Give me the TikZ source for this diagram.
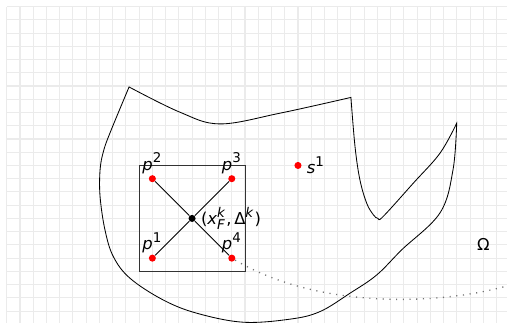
\documentclass[tikz,border=0pt]{standalone}
\usepackage{amsmath}
\usepackage{fontspec}
\setmainfont{DejaVu Sans}
\DeclareMathSizes{8.8}{8.8}{7.2}{6}
\usetikzlibrary{positioning}

\begin{document}
\begin{tikzpicture}[
  x=0.25cm, y=0.25cm,
  font=\fontsize{8.8}{10}\selectfont,
  gridline/.style={draw=black!8, line width=0.6pt},
  poll/.style={circle, fill=red, inner sep=0pt, minimum size=3.8pt},
  centre/.style={circle, fill=black, inner sep=0pt, minimum size=3.8pt},
  tag/.style={inner sep=0.5pt},
  region/.style={draw=black, line width=0.45pt},
  trustbox/.style={draw=black!80, line width=0.45pt, inner sep=0pt, minimum size=2cm},
  link/.style={draw=black, line width=0.45pt},
  trail/.style={draw=black!55, line width=0.7pt, dash pattern=on 0.6pt off 3pt}
]
\useasboundingbox (-0.51,-0.89) rectangle (37.79,23.5);
\draw[gridline, step=0.25cm] (0,-0.9) grid (37.8,23);

\draw[region] plot[smooth, tension=0.6] coordinates {(9.24,16.93) (13.09,15.02) (16.11,14.14) (20.64,14.95) (26.0,16.14)}
  -- plot[smooth, tension=0.6] coordinates {(26.0,16.14) (26.31,12.42) (26.68,9.91) (27.19,8.15) (27.69,7.28) (28.04,7.0) (28.44,7.15) (30.71,9.66) (32.73,11.93) (33.99,14.19)}
  -- plot[smooth, tension=0.6] coordinates {(33.99,14.19) (33.71,10.66) (32.73,7.42) (29.83,4.62) (27.95,2.73) (25.93,1.35) (23.66,-0.04) (21.4,-0.61) (17.85,-0.84) (14.35,-0.16) (11.8,0.85) (9.31,2.48) (8.05,4.12) (7.42,6.13) (7.05,8.65) (7.05,10.66) (7.3,12.05) (7.8,13.46) (9.24,16.93)}
  -- cycle;

\node[trustbox] (box) at (14,7) {};
\node[centre] (xk) at (14,7) {};
\node[poll] (p1) at (11,4) {};
\node[poll] (p2) at (11,10) {};
\node[poll] (p3) at (17,10) {};
\node[poll] (p4) at (17,4) {};
\node[poll] (s1) at (22,11) {};

\node[tag, above=0pt of p1] (p1lab) {\textit{p}$^{\text{1}}$};
\node[tag, above=0pt of p2] (p2lab) {\textit{p}$^{\text{2}}$};
\node[tag, above=0pt of p3] (p3lab) {\textit{p}$^{\text{3}}$};
\node[tag, above=0pt of p4] (p4lab) {\textit{p}$^{\text{4}}$};
\node[tag, right=2pt of s1] (s1lab) {\textit{s}$^{\text{1}}$};
\node[tag, right=2pt of xk] (xklab) {(\textit{x}$^{\text{\textit{k}}}_{\text{\textit{F}}}$,\,Δ$^{\text{\textit{k}}}$)};
\node (omega) at (36,5) {Ω};

\draw[link] (p1) -- (xk) -- (p3);
\draw[link] (p2) -- (xk) -- (p4);

\coordinate (exit) at (37.79,1.9);
\draw[trail] (p4) .. controls (23.66,0.09) and (32.73,0.47) .. (exit);
\end{tikzpicture}
\end{document}
